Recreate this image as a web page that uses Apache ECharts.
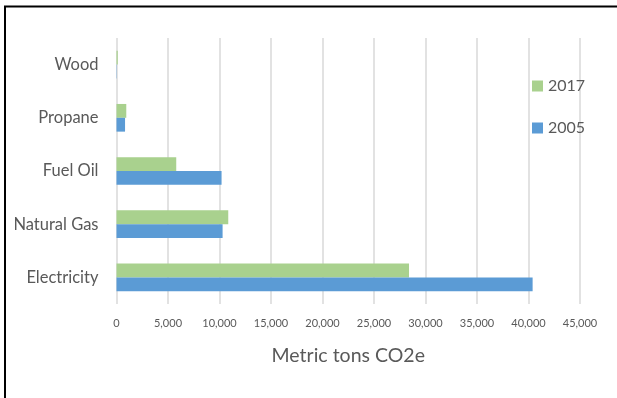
<!DOCTYPE html>
<html><head><meta charset="utf-8">
<script src="https://cdn.jsdelivr.net/npm/echarts@6/dist/echarts.min.js"></script>
<style>html,body{margin:0;padding:0;background:#fff}#c{width:617px;height:398px}</style>
</head><body><div id="c"></div>
<script>
const categories = ['Electricity', 'Natural Gas', 'Fuel Oil', 'Propane', 'Wood'];
const values2005 = [40400, 10300, 10200, 830, 30];
const values2017 = [28400, 10850, 5800, 950, 120];
const seriesNames = ['2017', '2005'];
const legendOrder = ['2017', '2005'];
const xTicks = { min: 0, max: 45000, interval: 5000 };
const axisTitle = 'Metric tons CO2e';

const font = 'Lato, "Open Sans", sans-serif';
const chart = echarts.init(document.getElementById('c'));
chart.setOption({
  animation: false,
  grid: { left: 116.5, right: 37, top: 38, bottom: 94 },
  legend: {
    data: legendOrder, orient: 'vertical', left: 527, top: 73,
    itemWidth: 11, itemHeight: 11, itemGap: 26, icon: 'rect',
    textStyle: { color: '#595959', fontSize: 16, fontFamily: font }
  },
  xAxis: {
    type: 'value', min: xTicks.min, max: xTicks.max, interval: xTicks.interval,
    name: axisTitle, nameLocation: 'middle', nameGap: 42,
    nameTextStyle: { color: '#595959', fontSize: 19.5, fontFamily: font },
    axisLine: { show: false }, axisTick: { show: false },
    axisLabel: { color: '#595959', fontSize: 11, fontFamily: font, margin: 14,
      formatter: v => v.toLocaleString('en-US') },
    splitLine: { lineStyle: { color: '#d9d9d9', width: 1.5 } }
  },
  yAxis: {
    type: 'category', data: categories,
    axisLine: { show: false }, axisTick: { show: false },
    axisLabel: { color: '#595959', fontSize: 16.5, fontFamily: font, margin: 18 }
  },
  series: [
    { name: seriesNames[0], type: 'bar', data: values2017, itemStyle: { color: '#A9D18E' },
      barGap: '0%', barCategoryGap: '48%' },
    { name: seriesNames[1], type: 'bar', data: values2005, itemStyle: { color: '#5B9BD5' },
      barGap: '0%', barCategoryGap: '48%' }
  ],
  graphic: [
    { type: 'polyline', shape: { points: [[5, 398], [5, 6.5], [617, 6.5]] },
      style: { stroke: '#000', lineWidth: 2, fill: null } }
  ]
});
</script></body></html>
